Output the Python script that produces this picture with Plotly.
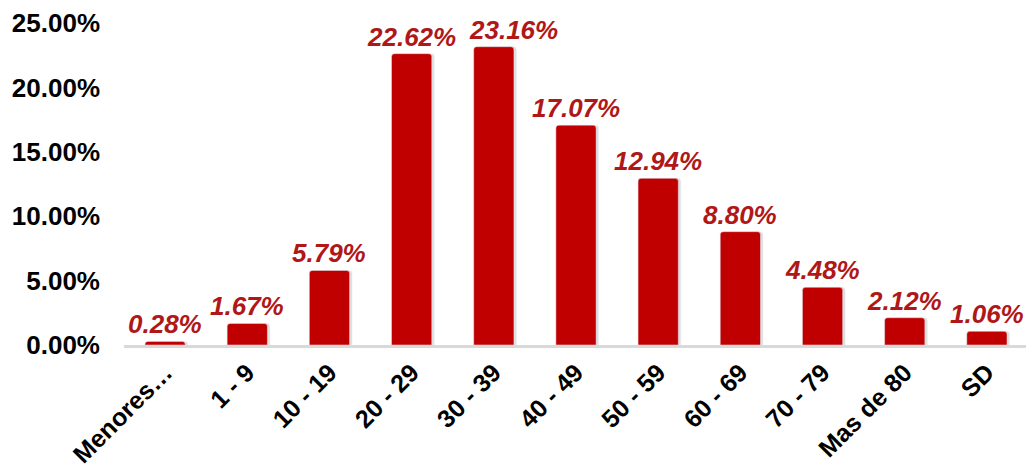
import plotly.graph_objects as go

categories = ["Menores…", "1 - 9", "10 - 19", "20 - 29", "30 - 39", "40 - 49",
              "50 - 59", "60 - 69", "70 - 79", "Mas de 80", "SD"]
values = [0.28, 1.67, 5.79, 22.62, 23.16, 17.07, 12.94, 8.80, 4.48, 2.12, 1.06]
y_ticks = [0, 5, 10, 15, 20, 25]
y_tick_labels = ["0.00%", "5.00%", "10.00%", "15.00%", "20.00%", "25.00%"]
value_labels = [f"{v:.2f}%" for v in values]

FONT = "Liberation Sans, Arial, sans-serif"
BAR_W = 0.49
# label nudges (style only): the 30 - 39 label is pushed right to avoid overlap
label_xshift = {"30 - 39": 20}

fig = go.Figure()
# soft shadow behind bars
fig.add_trace(go.Bar(
    x=categories, y=values, width=BAR_W, offset=-BAR_W / 2 + 0.03,
    marker=dict(color="rgba(0,0,0,0.13)", cornerradius=3),
    hoverinfo="skip", showlegend=False,
))
fig.add_trace(go.Bar(
    x=categories, y=values, width=BAR_W, offset=-BAR_W / 2,
    marker=dict(color="#C00000", cornerradius=3),
    showlegend=False,
))

for cat, val, lab in zip(categories, values, value_labels):
    fig.add_annotation(
        x=cat, y=val, text=lab, showarrow=False,
        xanchor="center", yanchor="bottom",
        xshift=label_xshift.get(cat, 0), yshift=0,
        font=dict(family=FONT, size=26, color="#B01818", weight="bold", style="italic"),
    )

fig.update_layout(
    width=1034, height=467,
    margin=dict(l=116, r=14, t=15, b=130),
    paper_bgcolor="white", plot_bgcolor="white",
    barmode="overlay",
    font=dict(family=FONT, color="black"),
)
fig.update_xaxes(
    tickangle=-45,
    tickfont=dict(family=FONT, size=25, color="black", weight="bold"),
    showline=True, linecolor="#D9D9D9", linewidth=3,
    showgrid=False, ticks="", automargin=False,
    ticklabelstandoff=0,
)
fig.update_yaxes(
    range=[0, 25],
    tickvals=y_ticks, ticktext=y_tick_labels,
    tickfont=dict(family=FONT, size=26, color="black", weight="bold"),
    showgrid=False, zeroline=False, showline=False, ticks="",
    ticklabelstandoff=23, automargin=False,
)

fig.write_html("out.html")
